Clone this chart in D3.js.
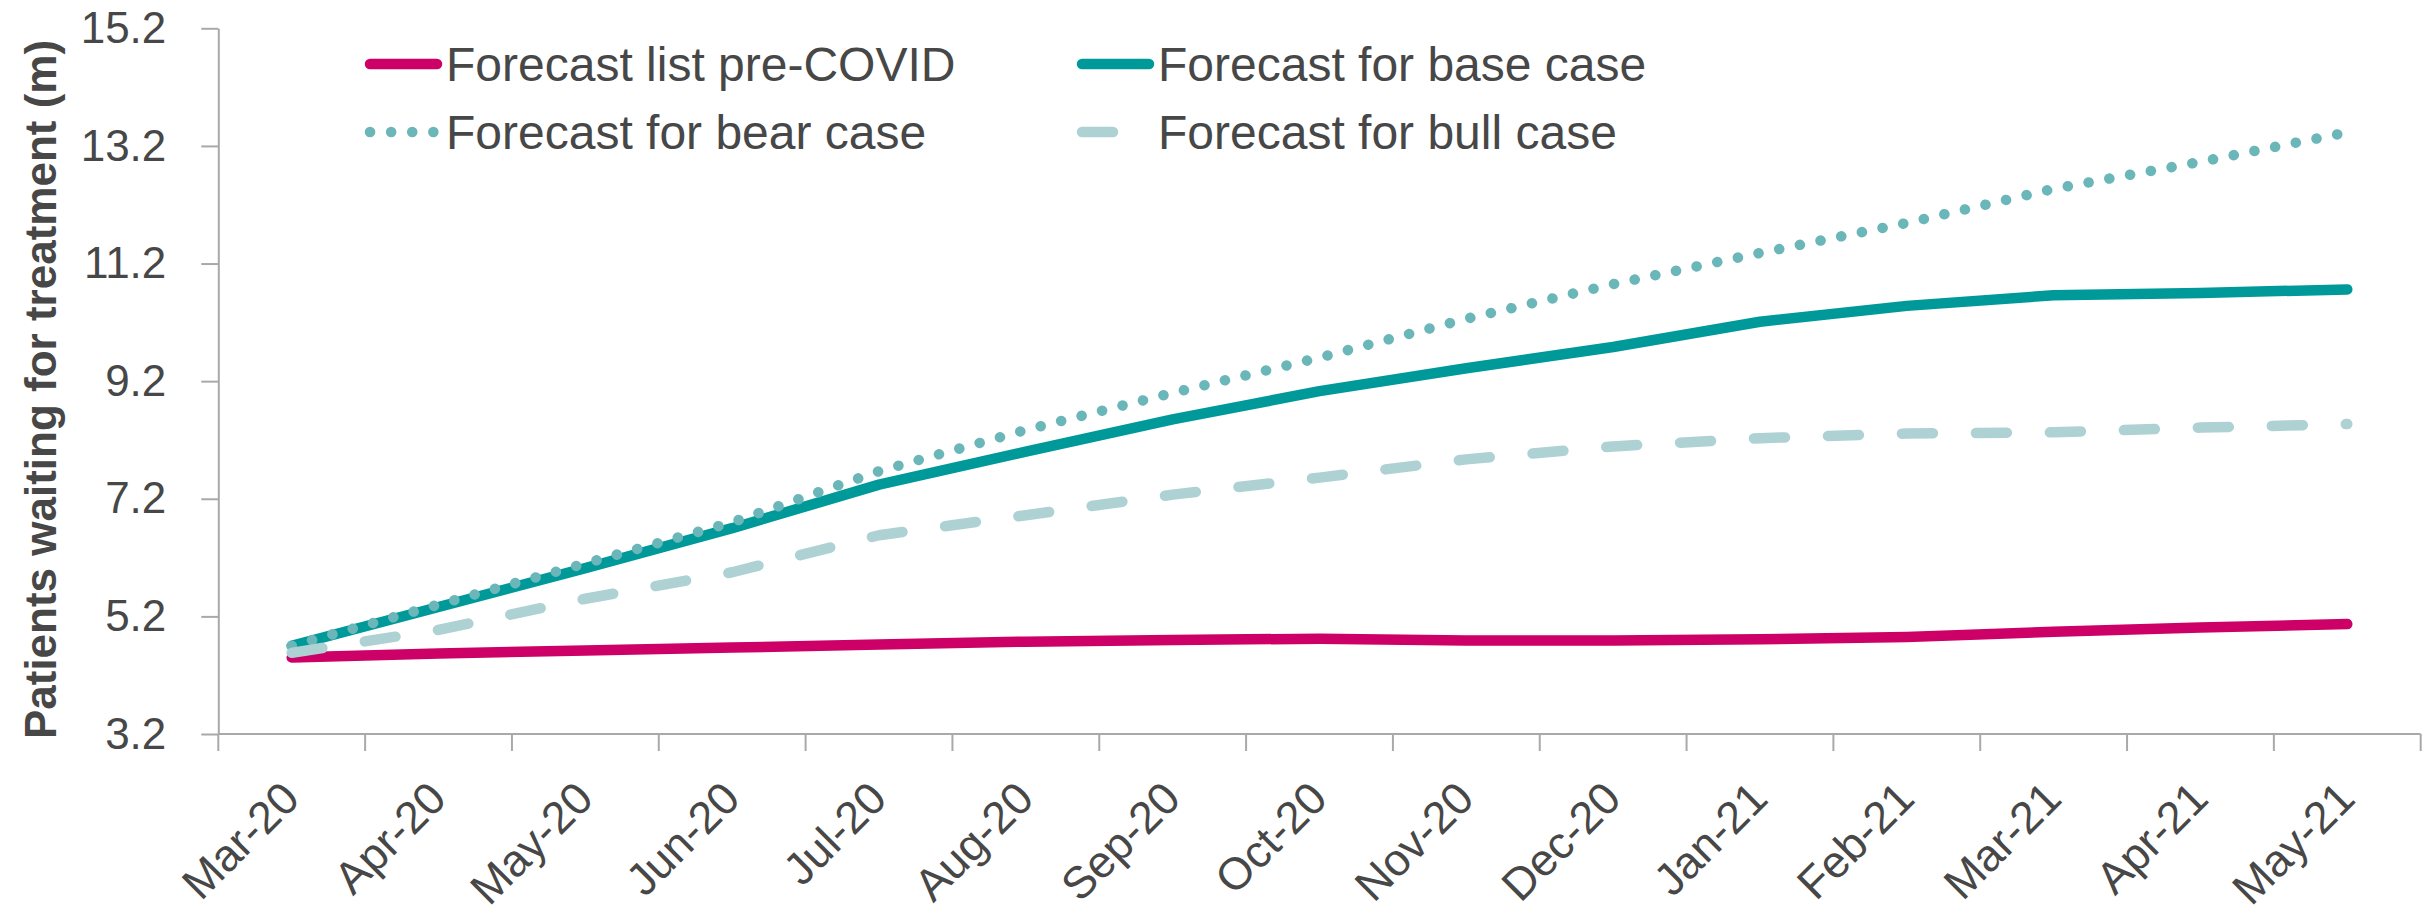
<!DOCTYPE html>
<html>
<head>
<meta charset="utf-8">
<script src="https://cdn.jsdelivr.net/npm/d3@7"></script>
<style>
  html, body { margin: 0; padding: 0; background: #ffffff; }
  svg { display: block; font-family: "Liberation Sans", Arial, sans-serif; }
</style>
</head>
<body>
<svg id="chart" width="2433" height="918"></svg>
<script>
// Monthly categories on the x axis
const categories = ["Mar-20", "Apr-20", "May-20", "Jun-20", "Jul-20", "Aug-20", "Sep-20",
  "Oct-20", "Nov-20", "Dec-20", "Jan-21", "Feb-21", "Mar-21", "Apr-21", "May-21"];

// Patients waiting for treatment, millions
const preCovid = [4.50, 4.57, 4.62, 4.67, 4.72, 4.77, 4.80, 4.82, 4.79, 4.79, 4.81, 4.85, 4.94, 5.01, 5.07];
const baseCase = [4.70, 5.36, 6.02, 6.70, 7.44, 8.00, 8.55, 9.03, 9.42, 9.78, 10.21, 10.48, 10.66, 10.70, 10.76];
const bearCase = [4.70, 5.40, 6.10, 6.80, 7.67, 8.37, 9.00, 9.60, 10.26, 10.85, 11.38, 11.89, 12.47, 12.93, 13.43];
const bullCase = [4.58, 4.97, 5.50, 5.95, 6.58, 6.92, 7.27, 7.56, 7.87, 8.09, 8.23, 8.31, 8.33, 8.41, 8.47];

// Y axis tick values
const yTicks = [3.2, 5.2, 7.2, 9.2, 11.2, 13.2, 15.2];

const seriesNames = ["Forecast list pre-COVID", "Forecast for base case", "Forecast for bear case", "Forecast for bull case"];

const TEXT = "#474747";
const AXIS = "#a9a9a9";
const LW = 10.5;

const styles = {
  "Forecast list pre-COVID": { color: "#cc0066", dash: null },
  "Forecast for base case":  { color: "#009999", dash: null },
  "Forecast for bear case":  { color: "#6bb6b9", dash: "0.1 21" },
  "Forecast for bull case":  { color: "#aed1d4", dash: "31 43" }
};

const series = [
  { name: seriesNames[0], values: preCovid },
  { name: seriesNames[1], values: baseCase },
  { name: seriesNames[2], values: bearCase },
  { name: seriesNames[3], values: bullCase }
];

const svg = d3.select("#chart");

const x = d3.scaleBand().domain(categories).range([218.3, 2420.7]).padding(0);
const y = d3.scaleLinear().domain([3.2, 15.2]).range([734, 28.3]);

// Y axis
const yAxis = svg.append("g")
  .attr("transform", `translate(${x.range()[0]},0)`)
  .call(d3.axisLeft(y).tickValues(yTicks).tickSize(17).tickSizeOuter(0).tickPadding(35)
    .tickFormat(d3.format(".1f")));
yAxis.select(".domain").attr("stroke", AXIS).attr("stroke-width", 2);
yAxis.selectAll(".tick line").attr("stroke", AXIS).attr("stroke-width", 2);
yAxis.selectAll(".tick text").attr("fill", TEXT).style("font-size", "44px")
  .style("font-family", '"Liberation Sans", Arial, sans-serif');

// X axis: baseline, category boundary ticks and rotated labels
const xg = svg.append("g");
xg.append("line")
  .attr("x1", x.range()[0]).attr("x2", x.range()[1])
  .attr("y1", y(3.2)).attr("y2", y(3.2))
  .attr("stroke", AXIS).attr("stroke-width", 2);

const boundaries = categories.map(c => x(c)).concat([x.range()[1]]);
xg.selectAll("line.xtick").data(boundaries).join("line")
  .attr("class", "xtick")
  .attr("x1", d => d).attr("x2", d => d)
  .attr("y1", y(3.2)).attr("y2", y(3.2) + 17)
  .attr("stroke", AXIS).attr("stroke-width", 2);

xg.selectAll("text.xlabel").data(categories).join("text")
  .attr("class", "xlabel")
  .attr("transform", d => `translate(${x(d) + x.bandwidth() / 2 + 10},${y(3.2) + 67}) rotate(-45)`)
  .attr("text-anchor", "end")
  .attr("fill", TEXT)
  .style("font-size", "45px")
  .text(d => d);

// Y axis title
svg.append("text")
  .attr("transform", `translate(56,389.5) rotate(-90)`)
  .attr("text-anchor", "middle")
  .attr("fill", TEXT)
  .style("font-size", "44px")
  .style("font-weight", "bold")
  .text("Patients waiting for treatment (m)");

// Lines
const line = d3.line()
  .x((d, i) => x(categories[i]) + x.bandwidth() / 2)
  .y(d => y(d));

svg.append("g").selectAll("path").data(series).join("path")
  .attr("d", d => line(d.values))
  .attr("fill", "none")
  .attr("stroke", d => styles[d.name].color)
  .attr("stroke-width", LW)
  .attr("stroke-linecap", "round")
  .attr("stroke-linejoin", "round")
  .attr("stroke-dasharray", d => styles[d.name].dash);

// Legend, two columns by two rows
const legendCols = [370, 1082];
const legendRows = [64, 132];
const legendItems = [
  { name: seriesNames[0], col: 0, row: 0 },
  { name: seriesNames[1], col: 1, row: 0 },
  { name: seriesNames[2], col: 0, row: 1 },
  { name: seriesNames[3], col: 1, row: 1 }
];
const lg = svg.append("g").selectAll("g").data(legendItems).join("g")
  .attr("transform", d => `translate(${legendCols[d.col]},${legendRows[d.row]})`);
lg.append("line")
  .attr("x1", 0).attr("x2", 67).attr("y1", 0).attr("y2", 0)
  .attr("stroke", d => styles[d.name].color)
  .attr("stroke-width", LW)
  .attr("stroke-linecap", "round")
  .attr("stroke-dasharray", d => styles[d.name].dash);
lg.append("text")
  .attr("x", 76).attr("y", 16.7)
  .attr("fill", TEXT)
  .style("font-size", "48px")
  .text(d => d.name);
</script>
</body>
</html>
